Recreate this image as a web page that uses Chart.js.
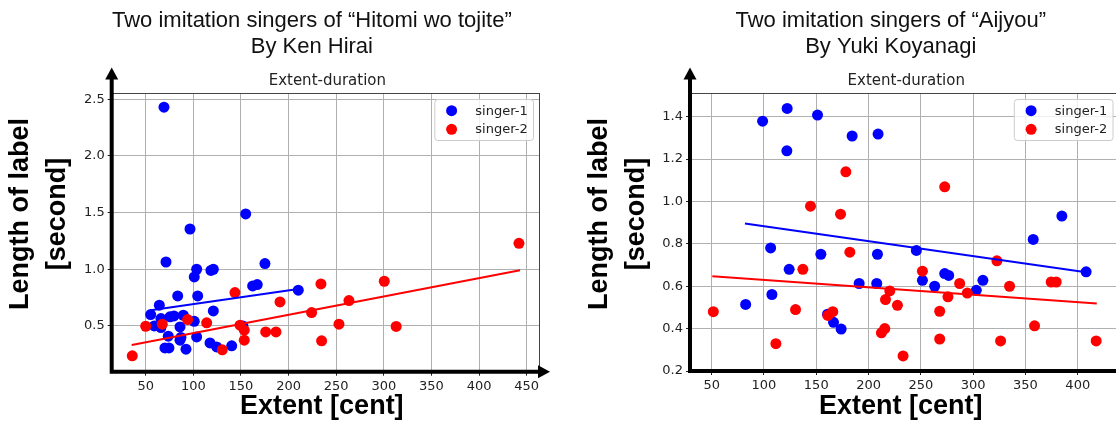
<!DOCTYPE html>
<html>
<head>
<meta charset="utf-8">
<script src="https://cdn.jsdelivr.net/npm/chart.js@4.4.1/dist/chart.umd.min.js"></script>
<style>
  html, body { margin: 0; padding: 0; background: #fff; overflow: hidden; width: 1116px; height: 423px; }
  #wrap { position: relative; width: 1116px; height: 423px; overflow: hidden; }
  canvas { position: absolute; top: 0; }
  #hitomi { left: 0; }
  #aijyou { left: 560px; }
</style>
</head>
<body>
<div id="wrap">
  <canvas id="hitomi" width="560" height="423"></canvas>
  <canvas id="aijyou" width="565" height="423"></canvas>
</div>
<script>
// ---- "Hitomi wo tojite" : extent [cent] vs. label length [s] ----
const hitomiSinger1X = [69.2, 96.5, 155, 71.3, 103.5, 101, 118.5, 121, 175.2, 83.6, 104.6, 64.3, 55.2, 75.5, 79.7, 66, 89.5, 121, 59, 66, 86, 101, 73.7, 87, 86, 70.2, 74.4, 92.3, 103.5, 117.5, 124.5, 140.3, 162.3, 167.1, 210.2, 152];
const hitomiSinger1Y = [2.43, 1.355, 1.488, 1.064, 1.0, 0.932, 0.99, 1.0, 1.05, 0.765, 0.765, 0.683, 0.6, 0.58, 0.588, 0.565, 0.594, 0.632, 0.5, 0.486, 0.491, 0.541, 0.409, 0.398, 0.374, 0.306, 0.306, 0.295, 0.403, 0.35, 0.315, 0.324, 0.853, 0.865, 0.815, 0.5];
const hitomiSinger2X = [35.9, 50, 67.4, 94, 114, 130.4, 143.7, 149, 153.5, 153.5, 176, 186.8, 191, 224.2, 234, 234.7, 263.4, 300.5, 252.9, 313, 441.9];
const hitomiSinger2Y = [0.236, 0.497, 0.515, 0.556, 0.527, 0.289, 0.794, 0.506, 0.462, 0.374, 0.447, 0.447, 0.712, 0.618, 0.87, 0.368, 0.724, 0.894, 0.515, 0.495, 1.229];
const hitomiFit1X = [55.2, 210.2];
const hitomiFit1Y = [0.638, 0.826];
const hitomiFit2X = [35.3, 443];
const hitomiFit2Y = [0.332, 0.991];
const hitomiXTicks = [50, 100, 150, 200, 250, 300, 350, 400, 450];
const hitomiYTicks = [0.5, 1.0, 1.5, 2.0, 2.5];

// ---- "Aijyou" ----
const aijyouSinger1X = [98.7, 122.2, 151.2, 121.9, 184.3, 209.1, 106.4, 154.4, 208.5, 124.1, 82.5, 107.6, 160.8, 166.5, 173.8, 191, 207.8, 384.8, 357.4, 245.7, 408, 251.5, 263.2, 272.8, 276.6, 303, 309.3];
const aijyouSinger1Y = [1.379, 1.439, 1.408, 1.239, 1.309, 1.318, 0.781, 0.751, 0.751, 0.68, 0.514, 0.561, 0.468, 0.43, 0.398, 0.613, 0.613, 0.931, 0.821, 0.769, 0.668, 0.628, 0.6, 0.66, 0.651, 0.581, 0.628];
const aijyouSinger2X = [178.3, 144.5, 173.2, 182.1, 51.6, 111.4, 130.2, 137.2, 161.1, 165.8, 212.3, 272.8, 322.7, 251.5, 287.1, 294.4, 275.9, 334.8, 374.6, 379.4, 220.3, 216.2, 227.6, 268, 215.5, 233, 268, 326.2, 358.7, 417.6];
const aijyouSinger2Y = [1.14, 0.978, 0.94, 0.761, 0.48, 0.329, 0.49, 0.68, 0.462, 0.48, 0.38, 1.069, 0.72, 0.671, 0.613, 0.568, 0.55, 0.6, 0.62, 0.62, 0.578, 0.537, 0.51, 0.482, 0.4, 0.271, 0.351, 0.342, 0.413, 0.342];
const aijyouFit1X = [81.8, 408];
const aijyouFit1Y = [0.896, 0.666];
const aijyouFit2X = [50.6, 418.2];
const aijyouFit2Y = [0.647, 0.518];
const aijyouXTicks = [50, 100, 150, 200, 250, 300, 350, 400];
const aijyouYTicks = [0.2, 0.4, 0.6, 0.8, 1.0, 1.2, 1.4];

const seriesLabels = ['singer-1', 'singer-2'];
const seriesColors = ['#0000ff', '#ff0000'];

Chart.defaults.font.family = "'DejaVu Sans', sans-serif";
Chart.defaults.color = '#222';

const zip = (xs, ys) => xs.map((x, i) => ({ x: x, y: ys[i] }));

// Draws titles, axis labels, arrow-style axes, frame and legend.
const decor = {
  id: 'decor',
  beforeDraw(chart) {
    const ctx = chart.ctx;
    ctx.save();
    ctx.fillStyle = '#fff';
    ctx.fillRect(0, 0, chart.width, chart.height);
    ctx.restore();
  },
  afterDraw(chart, args, o) {
    const ctx = chart.ctx;
    const a = chart.chartArea;
    const cx = (a.left + a.right) / 2;
    ctx.save();

    // top / right frame
    ctx.strokeStyle = '#444';
    ctx.lineWidth = 1;
    ctx.beginPath();
    ctx.moveTo(a.left, a.top + 0.5);
    ctx.lineTo(a.right, a.top + 0.5);
    ctx.moveTo(a.right - 0.5, a.top);
    ctx.lineTo(a.right - 0.5, a.bottom);
    ctx.stroke();

    // arrow axes
    ctx.strokeStyle = '#000';
    ctx.fillStyle = '#000';
    ctx.lineWidth = 4;
    ctx.beginPath();
    ctx.moveTo(a.left, a.bottom + 2);
    ctx.lineTo(a.left, o.arrowTop + 10);
    ctx.moveTo(a.left - 2, a.bottom);
    ctx.lineTo(a.right + o.arrowRight - 10, a.bottom);
    ctx.stroke();
    ctx.beginPath();
    ctx.moveTo(a.left, o.arrowTop);
    ctx.lineTo(a.left - 6.5, o.arrowTop + 12);
    ctx.lineTo(a.left + 6.5, o.arrowTop + 12);
    ctx.closePath();
    ctx.fill();
    const tipX = a.right + o.arrowRight;
    ctx.beginPath();
    ctx.moveTo(tipX, a.bottom);
    ctx.lineTo(tipX - 12, a.bottom - 6.5);
    ctx.lineTo(tipX - 12, a.bottom + 6.5);
    ctx.closePath();
    ctx.fill();

    // legend
    const bw = 98.7, bh = 41;
    const bx = a.right - 7 - bw, by = a.top + 6;
    ctx.fillStyle = 'rgba(255,255,255,0.8)';
    ctx.strokeStyle = '#cccccc';
    ctx.lineWidth = 1;
    ctx.beginPath();
    ctx.roundRect(bx + 0.5, by + 0.5, bw, bh, 3);
    ctx.fill();
    ctx.stroke();
    ctx.font = "13px 'DejaVu Sans'";
    ctx.textBaseline = 'middle';
    ctx.textAlign = 'left';
    chart.data.datasets.filter(d => d.type === 'scatter').forEach((d, i) => {
      const yy = by + 11.7 + i * 18.6;
      ctx.fillStyle = d.backgroundColor;
      ctx.beginPath();
      ctx.arc(bx + 17.3, yy, 5.5, 0, Math.PI * 2);
      ctx.fill();
      ctx.fillStyle = '#222';
      ctx.fillText(d.label, bx + 41, yy + 0.5);
    });

    // titles
    ctx.fillStyle = '#111';
    ctx.textAlign = 'center';
    ctx.textBaseline = 'alphabetic';
    ctx.font = "22px 'Liberation Sans'";
    ctx.fillText(o.title[0], cx - 14, 26.7);
    ctx.fillText(o.title[1], cx - 14, 53.3);
    ctx.font = "15px 'DejaVu Sans'";
    ctx.fillStyle = '#222';
    ctx.fillText(o.subtitle, cx + 1.5, 85);

    // axis labels
    ctx.fillStyle = '#000';
    ctx.font = "bold 27px 'Liberation Sans'";
    ctx.textBaseline = 'middle';
    ctx.fillText(o.xLabel, cx - 4, 407);
    o.yLabel.forEach((line, i) => {
      ctx.save();
      ctx.translate(a.left + (i === 0 ? -90.7 : -53.7), 214);
      ctx.rotate(-Math.PI / 2);
      ctx.fillText(line, 0, 0);
      ctx.restore();
    });
    ctx.restore();
  }
};

function makeChart(id, s) {
  const canvas = document.getElementById(id);
  const W = canvas.width, H = canvas.height;
  const area = s.area;
  const datasets = [
    { type: 'scatter', label: seriesLabels[0], data: zip(s.x1, s.y1), backgroundColor: seriesColors[0],
      pointRadius: 5.5, pointBorderWidth: 0, borderWidth: 0, order: 2 },
    { type: 'scatter', label: seriesLabels[1], data: zip(s.x2, s.y2), backgroundColor: seriesColors[1],
      pointRadius: 5.5, pointBorderWidth: 0, borderWidth: 0, order: 1 },
    { type: 'line', label: 'fit-1', data: zip(s.f1x, s.f1y), borderColor: seriesColors[0], borderWidth: 2,
      pointRadius: 0, fill: false, order: 0 },
    { type: 'line', label: 'fit-2', data: zip(s.f2x, s.f2y), borderColor: seriesColors[1], borderWidth: 2,
      pointRadius: 0, fill: false, order: 0 }
  ];
  return new Chart(canvas, {
    type: 'scatter',
    data: { datasets: datasets },
    options: {
      responsive: false,
      animation: false,
      events: [],
      layout: { padding: { top: area.top, left: 0, right: W - area.right, bottom: 0 } },
      plugins: {
        legend: { display: false },
        tooltip: { enabled: false },
        decor: { title: s.title, subtitle: 'Extent-duration', xLabel: 'Extent [cent]',
                 yLabel: ['Length of label', '[second]'], arrowTop: 67.5, arrowRight: s.arrowRight }
      },
      scales: {
        x: {
          type: 'linear', position: 'bottom', min: s.xMin, max: s.xMax,
          afterBuildTicks: sc => { sc.ticks = s.xTicks.map(v => ({ value: v })); },
          afterFit: sc => { sc.height = H - area.bottom; },
          ticks: { autoSkip: false, maxRotation: 0, padding: 3, font: { size: 13 }, color: '#222',
                   callback: v => String(v) },
          grid: { color: '#b0b0b0', lineWidth: 1, tickLength: 4, tickColor: '#222' },
          border: { display: false }
        },
        y: {
          type: 'linear', position: 'left', min: s.yMin, max: s.yMax,
          afterBuildTicks: sc => { sc.ticks = s.yTicks.map(v => ({ value: v })); },
          afterFit: sc => { sc.width = area.left; },
          ticks: { padding: 3, font: { size: 13 }, color: '#222', callback: v => v.toFixed(1) },
          grid: { color: '#b0b0b0', lineWidth: 1, tickLength: 4, tickColor: '#222' },
          border: { display: false }
        }
      }
    },
    plugins: [decor]
  });
}

makeChart('hitomi', {
  area: { left: 111.7, right: 540, top: 93, bottom: 371.7 },
  x1: hitomiSinger1X, y1: hitomiSinger1Y, x2: hitomiSinger2X, y2: hitomiSinger2Y,
  f1x: hitomiFit1X, f1y: hitomiFit1Y, f2x: hitomiFit2X, f2y: hitomiFit2Y,
  xMin: 14.3, xMax: 464, yMin: 0.096, yMax: 2.555,
  xTicks: hitomiXTicks, yTicks: hitomiYTicks,
  title: ['Two imitation singers of \u201cHitomi wo tojite\u201d', 'By Ken Hirai'],
  arrowRight: 10
});

makeChart('aijyou', {
  area: { left: 130, right: 560, top: 93, bottom: 371 },
  x1: aijyouSinger1X, y1: aijyouSinger1Y, x2: aijyouSinger2X, y2: aijyouSinger2Y,
  f1x: aijyouFit1X, f1y: aijyouFit1Y, f2x: aijyouFit2X, f2y: aijyouFit2Y,
  xMin: 29.3, xMax: 439.9, yMin: 0.2, yMax: 1.512,
  xTicks: aijyouXTicks, yTicks: aijyouYTicks,
  title: ['Two imitation singers of \u201cAijyou\u201d', 'By Yuki Koyanagi'],
  arrowRight: 10
});
</script>
</body>
</html>
